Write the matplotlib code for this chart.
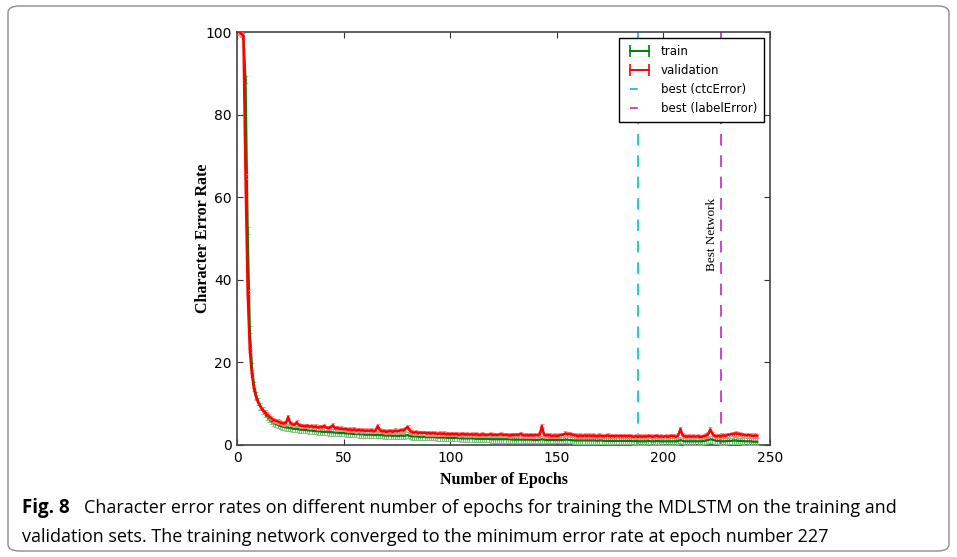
import matplotlib
matplotlib.use("Agg")
import matplotlib.pyplot as plt
from matplotlib.lines import Line2D
from matplotlib.patches import FancyBboxPatch
import numpy as np

epochs = list(range(1, 245))

validation = [
    100, 99.6, 99.2, 65, 37, 23, 17, 13.5, 11.5, 10.2,
    9.3, 8.6, 8.0, 7.4, 6.9, 6.5, 6.1, 5.9, 5.7, 5.5,
    5.3, 5.2, 5.4, 6.8, 5.3, 5.0, 4.9, 5.5, 4.8, 4.7,
    4.6, 4.5, 4.7, 4.4, 4.6, 4.3, 4.5, 4.2, 4.4, 4.3,
    4.6, 4.2, 4.1, 4.3, 4.8, 4.0, 4.2, 3.9, 4.0, 3.8,
    3.9, 3.7, 3.8, 3.6, 3.8, 3.5, 3.7, 3.5, 3.6, 3.4,
    3.5, 3.4, 3.6, 3.3, 3.5, 4.6, 3.6, 3.3, 3.4, 3.2,
    3.3, 3.4, 3.2, 3.5, 3.3, 3.4, 3.6, 3.5, 3.9, 4.4,
    3.5, 3.1, 3.0, 3.1, 2.9, 3.0, 2.9, 3.0, 2.8, 2.9,
    2.8, 2.9, 2.8, 2.7, 2.8, 2.7, 2.8, 2.6, 2.7, 2.6,
    2.7, 2.6, 2.7, 2.5, 2.6, 2.7, 2.5, 2.6, 2.5, 2.6,
    2.5, 2.6, 2.5, 2.4, 2.6, 2.5, 2.4, 2.5, 2.6, 2.4,
    2.5, 2.4, 2.5, 2.6, 2.4, 2.5, 2.4, 2.3, 2.5, 2.4,
    2.5, 2.4, 2.7, 2.4, 2.3, 2.4, 2.3, 2.4, 2.3, 2.4,
    2.3, 2.6, 4.6, 2.5, 2.3, 2.4, 2.3, 2.2, 2.3, 2.2,
    2.3, 2.4, 2.5, 2.8, 2.6, 2.7, 2.5, 2.4, 2.3, 2.2,
    2.3, 2.2, 2.3, 2.2, 2.3, 2.2, 2.3, 2.2, 2.1, 2.3,
    2.2, 2.1, 2.2, 2.3, 2.1, 2.2, 2.1, 2.2, 2.1, 2.2,
    2.1, 2.2, 2.1, 2.2, 2.1, 2.0, 2.1, 2.0, 2.1, 2.0,
    2.1, 2.0, 2.2, 2.1, 2.0, 2.1, 2.2, 2.0, 2.1, 2.0,
    2.1, 2.0, 2.1, 2.2, 2.1, 2.0, 2.4, 3.9, 2.3, 2.1,
    2.0, 2.1, 2.0, 2.1, 2.0, 2.1, 2.0, 2.0, 2.1, 2.3,
    2.6, 3.8, 2.7, 2.2, 2.1, 2.2, 2.1, 2.3, 2.2, 2.4,
    2.5, 2.6, 2.7, 2.8, 2.7, 2.6, 2.5, 2.4, 2.3, 2.4,
    2.3, 2.2, 2.3, 2.2,
]

train = [
    100, 99.5, 99, 88.5, 52, 28, 19, 14.5, 12, 10.5,
    9.3, 8.4, 7.6, 6.9, 6.3, 5.8, 5.4, 5.1, 4.9, 4.7,
    4.5, 4.4, 4.3, 4.2, 4.1, 4.0, 3.9, 3.9, 3.8, 3.7,
    3.7, 3.6, 3.6, 3.5, 3.5, 3.4, 3.4, 3.3, 3.3, 3.2,
    3.2, 3.2, 3.1, 3.1, 3.1, 3.0, 3.0, 2.9, 2.9, 2.9,
    2.8, 2.8, 2.8, 2.7, 2.7, 2.7, 2.6, 2.6, 2.6, 2.5,
    2.5, 2.5, 2.5, 2.4, 2.4, 2.5, 2.4, 2.4, 2.3, 2.3,
    2.3, 2.3, 2.2, 2.3, 2.2, 2.2, 2.3, 2.2, 2.3, 2.4,
    2.2, 2.1, 2.1, 2.1, 2.0, 2.0, 2.0, 2.0, 1.9, 1.9,
    1.9, 1.9, 1.9, 1.8, 1.8, 1.8, 1.8, 1.8, 1.7, 1.7,
    1.7, 1.7, 1.7, 1.7, 1.6, 1.6, 1.6, 1.6, 1.6, 1.6,
    1.6, 1.5, 1.5, 1.5, 1.5, 1.5, 1.5, 1.5, 1.4, 1.4,
    1.4, 1.4, 1.4, 1.4, 1.4, 1.4, 1.4, 1.4, 1.3, 1.3,
    1.3, 1.3, 1.3, 1.3, 1.3, 1.3, 1.3, 1.3, 1.2, 1.2,
    1.2, 1.3, 1.4, 1.3, 1.2, 1.2, 1.2, 1.2, 1.2, 1.2,
    1.2, 1.2, 1.2, 1.3, 1.3, 1.2, 1.2, 1.1, 1.1, 1.1,
    1.1, 1.1, 1.1, 1.1, 1.1, 1.1, 1.1, 1.1, 1.0, 1.1,
    1.1, 1.0, 1.0, 1.0, 1.0, 1.0, 1.0, 1.0, 1.0, 1.0,
    1.0, 1.0, 1.0, 1.0, 1.0, 0.9, 1.0, 0.9, 0.9, 0.9,
    0.9, 0.9, 1.0, 0.9, 0.9, 0.9, 1.0, 0.9, 0.9, 0.9,
    0.9, 0.9, 0.9, 0.9, 0.9, 0.9, 1.0, 1.2, 1.0, 0.9,
    0.9, 0.9, 0.9, 0.9, 0.9, 0.9, 0.9, 0.9, 1.0, 1.1,
    1.2, 1.4, 1.3, 1.1, 1.0, 1.0, 0.9, 0.9, 0.9, 1.0,
    1.0, 1.0, 1.1, 1.1, 1.0, 1.0, 1.0, 0.9, 0.9, 0.9,
    0.9, 0.8, 0.8, 0.8,
]

train_err = 0.8
val_err = 0.5
best_ctc = 188
best_label = 227

x_ticks = [0, 50, 100, 150, 200, 250]
y_ticks = [0, 20, 40, 60, 80, 100]

plt.rcParams['xtick.direction'] = 'in'
plt.rcParams['ytick.direction'] = 'in'

fig = plt.figure(figsize=(9.57, 5.57), dpi=100)
fig.patch.set_facecolor('white')

# rounded border
border = FancyBboxPatch((8 / 957, 6 / 557), 941 / 957, 545 / 557,
                        boxstyle="round,pad=0,rounding_size=0.012",
                        transform=fig.transFigure, fill=False,
                        edgecolor='#8c8c8c', linewidth=1.0)
fig.patches.append(border)

ax = fig.add_axes([237 / 957, 1 - 445 / 557, 533 / 957, 413 / 557])

ax.errorbar(epochs, train, yerr=train_err, color='#008000', ecolor='#7fbf7f',
            elinewidth=0.8, capsize=1.5, capthick=0.6, linewidth=1.6, zorder=3)
ax.errorbar(epochs, validation, yerr=val_err, color='#ff0000', ecolor='#ff8080',
            elinewidth=0.8, capsize=1.5, capthick=0.6, linewidth=1.8, zorder=4)

ax.axvline(best_ctc, color='#22cccc', linestyle=(0, (6, 5)), linewidth=1.4)
ax.axvline(best_label, color='#cc44cc', linestyle=(0, (6, 5)), linewidth=1.4)

ax.text(best_label - 4.0, 51, 'Best Network', rotation=90, ha='center', va='center',
        family='Liberation Serif', fontsize=9.5)

ax.set_xlim(0, 250)
ax.set_ylim(0, 100)
ax.set_xticks(x_ticks)
ax.set_yticks(y_ticks)
ax.tick_params(top=True, right=True, labelsize=10, length=4, width=0.8, pad=4,
               colors='#333333', labelcolor='black')
for s in ax.spines.values():
    s.set_color('#444444')
    s.set_linewidth(1.2)

ax.set_xlabel('Number of Epochs', family='Liberation Serif', fontweight='bold',
              fontsize=11.5, labelpad=5)
ax.set_ylabel('Character Error Rate', family='Liberation Serif', fontweight='bold',
              fontsize=11.5)
ax.yaxis.set_label_coords(-0.049, 0.5)

handles = [
    Line2D([], [], color='#008000', marker='|', markersize=8, markeredgewidth=1.2, linewidth=1.4),
    Line2D([], [], color='#ff0000', marker='|', markersize=8, markeredgewidth=1.2, linewidth=1.4),
    Line2D([], [], color='#22cccc', linestyle=(0, (4, 6)), linewidth=1.4),
    Line2D([], [], color='#cc44cc', linestyle=(0, (4, 6)), linewidth=1.4),
]
labels = ['train', 'validation', 'best (ctcError)', 'best (labelError)']
leg = ax.legend(handles, labels, loc='upper right', numpoints=2, fontsize=8.5,
                fancybox=False, framealpha=1, edgecolor='black', handlelength=2.2,
                borderaxespad=0.5, borderpad=0.6, labelspacing=0.5, handletextpad=0.7)
leg.get_frame().set_linewidth(1.0)

cap_font = ['Open Sans', 'DejaVu Sans']
fig.text(22 / 957, 1 - 508 / 557, 'Fig. 8', family=cap_font, fontweight='bold',
         fontsize=13.5, va='center', ha='left')
fig.text(84 / 957, 1 - 508 / 557,
         'Character error rates on different number of epochs for training the MDLSTM on the training and',
         family=cap_font, fontsize=13.0, va='center', ha='left')
fig.text(22 / 957, 1 - 537 / 557,
         'validation sets. The training network converged to the minimum error rate at epoch number 227',
         family=cap_font, fontsize=13.0, va='center', ha='left')

fig.savefig('out.png', dpi=100)
